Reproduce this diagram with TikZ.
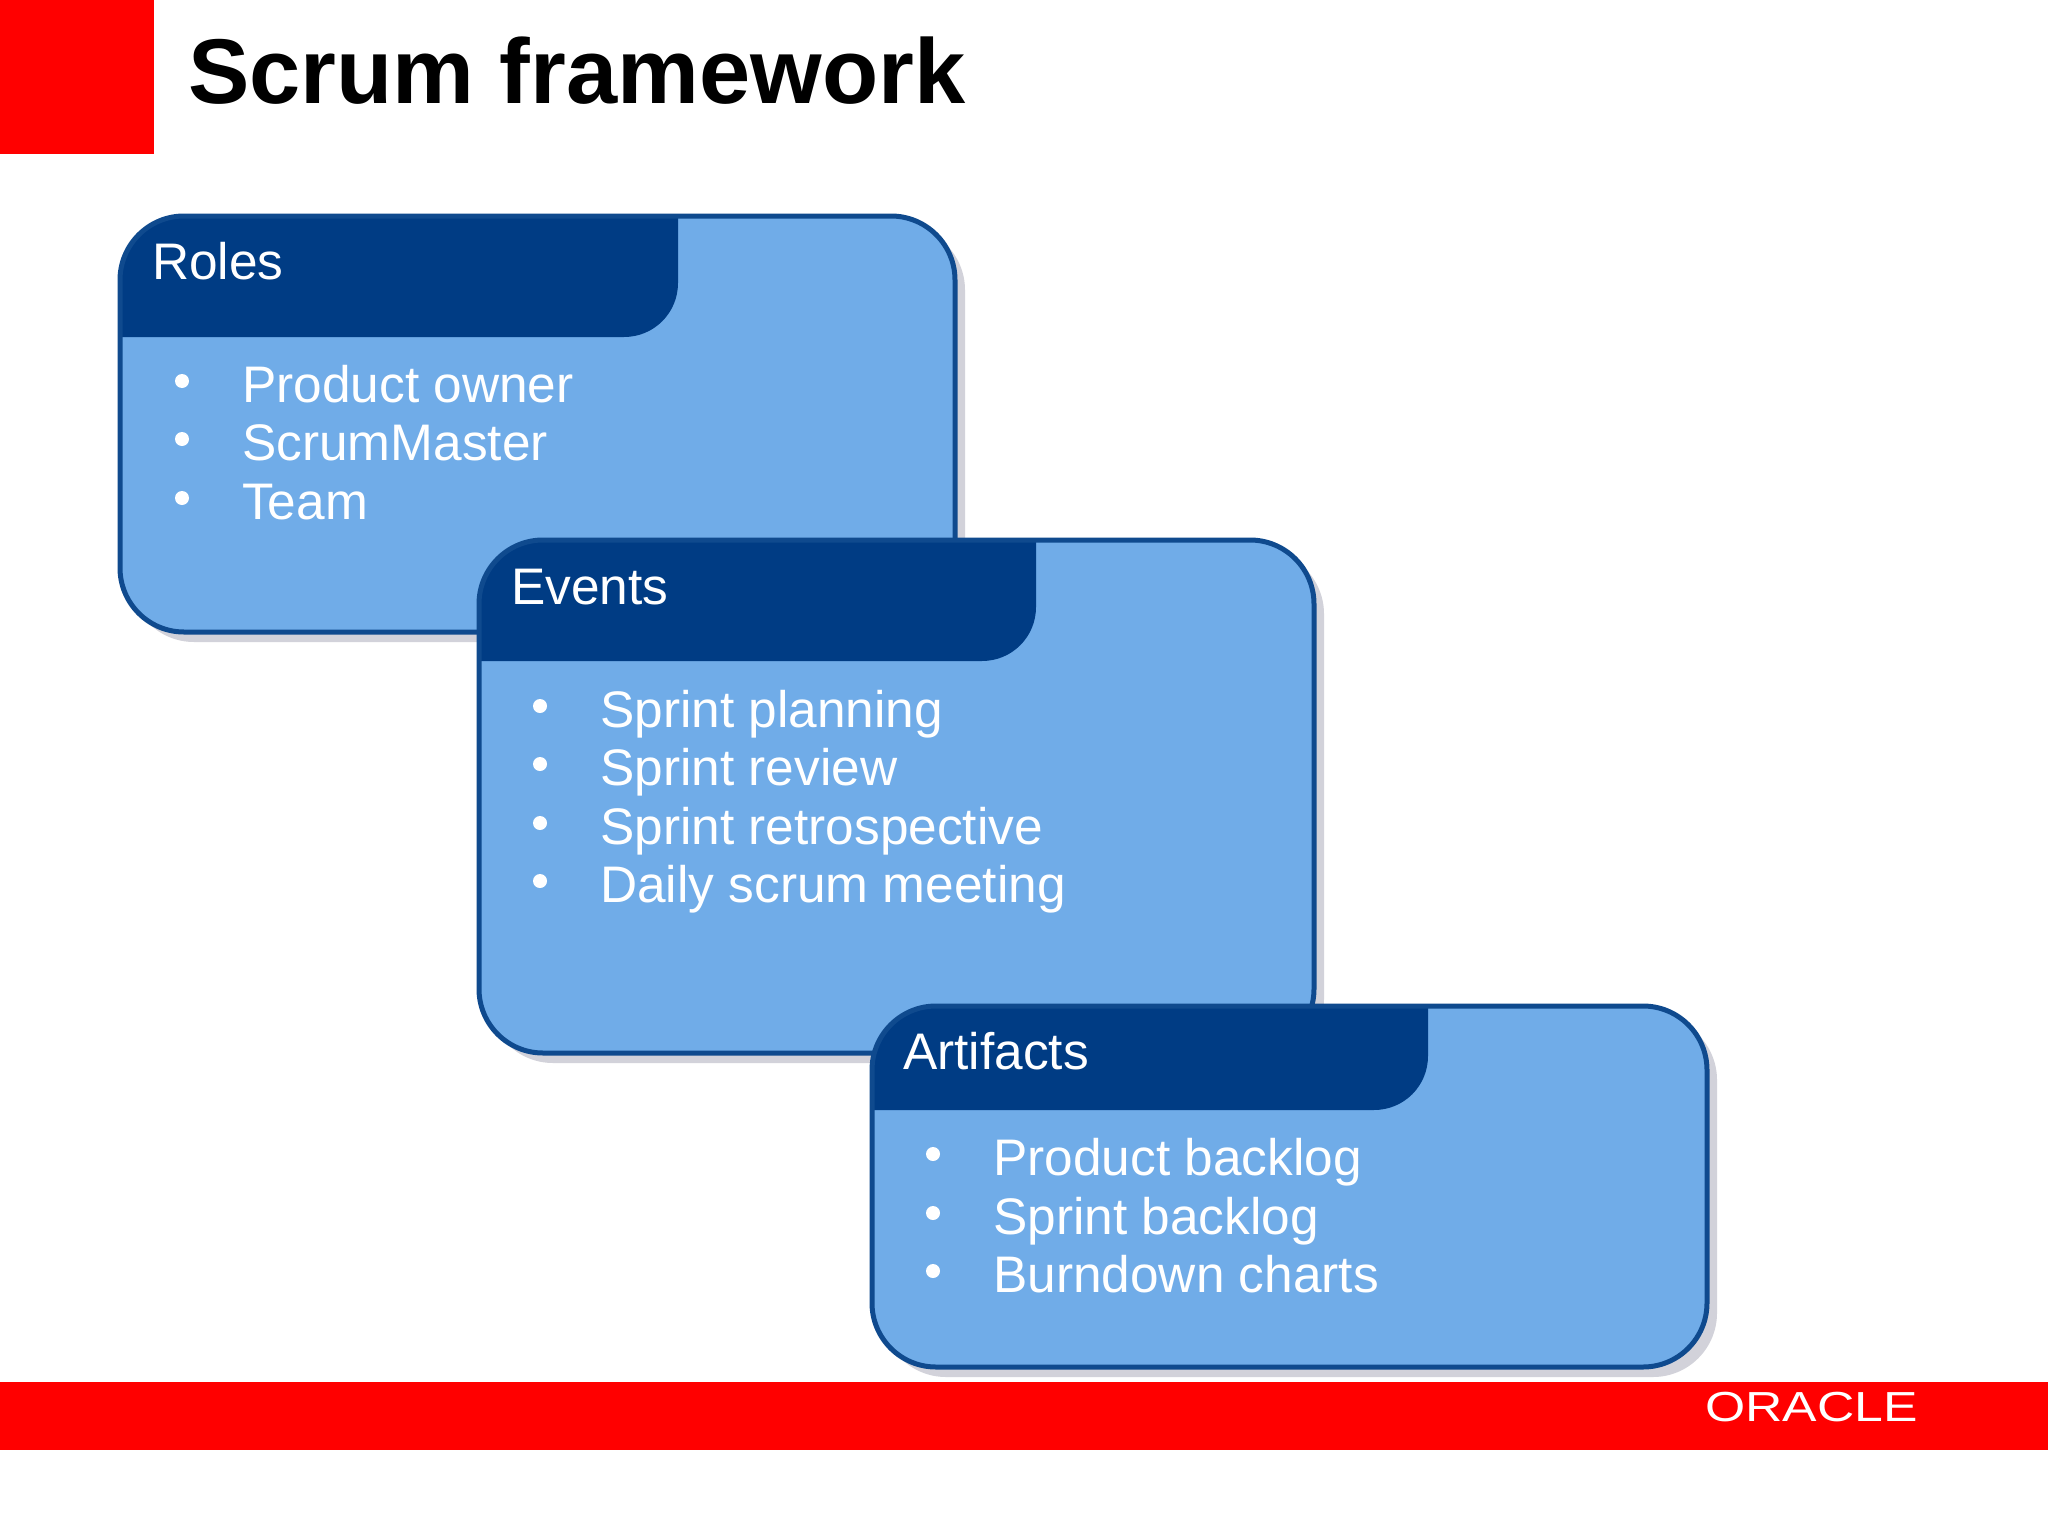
\documentclass[tikz,border=0pt]{standalone}
\usepackage{fontspec}
\setmainfont{Liberation Sans}
\definecolor{oraclered}{HTML}{FF0000}
\definecolor{cardbody}{HTML}{70ACE8}
\definecolor{cardhead}{HTML}{003C84}
\definecolor{cardline}{HTML}{0F4A8E}
\definecolor{cardshadow}{HTML}{D2D2DA}
\tikzset{
  redblock/.style={fill=oraclered,draw=none},
  titletext/.style={anchor=base west,inner sep=0pt,font=\fontsize{92}{100}\selectfont\bfseries,text=black},
  headtext/.style={anchor=base west,inner sep=0pt,font=\fontsize{51.4}{58}\selectfont,text=white},
  itemtext/.style={anchor=base west,inner sep=0pt,font=\fontsize{51.4}{58}\selectfont,text=white},
  bulletdot/.style={circle,fill=white,draw=none,inner sep=0pt,minimum size=14pt},
  logotext/.style={anchor=base west,inner sep=0pt,font=\fontsize{42}{46}\selectfont,text=white,xscale=1.23}
}
% x0 y0 x1 y1 hx hy
\newcommand{\cardshape}[6]{%
  \fill[cardshadow,rounded corners=64pt] (#1+10,#2+10) rectangle (#3+10,#4+10);
  \fill[cardbody,rounded corners=64pt] (#1,#2) rectangle (#3,#4);
  \fill[cardhead] (#1,#6) -- (#1,#2+64) .. controls (#1,#2+29) and (#1+29,#2) .. (#1+64,#2)
     -- (#5,#2) -- (#5,#6-54) .. controls (#5,#6-24) and (#5-24,#6) .. (#5-54,#6) -- cycle;
  \draw[cardline,line width=5pt,rounded corners=64pt] (#1,#2) rectangle (#3,#4);
}
\newcommand{\carditem}[5]{%
  \node[bulletdot] (#1b) at (#2,#4-21) {};
  \node[itemtext] (#1) at (#3,#4) {#5};
}
\begin{document}
\begin{tikzpicture}[x=1pt,y=-1pt]
\useasboundingbox (0,0) rectangle (2048,1536);
\fill[white] (0,0) rectangle (2048,1536);
\fill[redblock] (0,0) rectangle (154,154);
\fill[redblock] (0,1382) rectangle (2048,1450);
\node[titletext] (title) at (188,104) {Scrum framework};

\cardshape{120}{216}{955}{632}{678}{337}
\node[headtext] (roles) at (152,279) {Roles};
\carditem{r1}{182}{242}{402}{Product owner}
\carditem{r2}{182}{242}{460}{ScrumMaster}
\carditem{r3}{182}{242}{519}{Team}

\cardshape{479}{540}{1314}{1053}{1036}{661}
\node[headtext] (events) at (511,604) {Events};
\carditem{e1}{540}{600}{727}{Sprint planning}
\carditem{e2}{540}{600}{785}{Sprint review}
\carditem{e3}{540}{600}{844}{Sprint retrospective}
\carditem{e4}{540}{600}{902}{Daily scrum meeting}

\cardshape{872}{1006}{1707}{1367}{1428}{1110}
\node[headtext] (artifacts) at (903,1069) {Artifacts};
\carditem{a1}{933}{993}{1175}{Product backlog}
\carditem{a2}{933}{993}{1234}{Sprint backlog}
\carditem{a3}{933}{993}{1292}{Burndown charts}

\node[logotext] (logo) at (1705,1421) {ORACLE};
\end{tikzpicture}
\end{document}
